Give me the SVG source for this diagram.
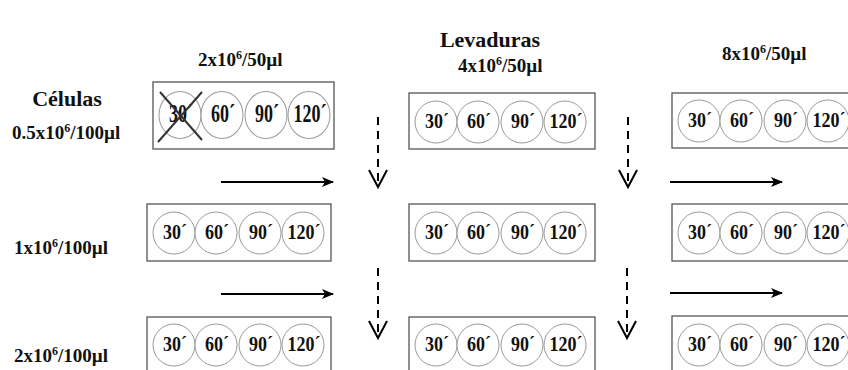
<svg xmlns="http://www.w3.org/2000/svg" width="848" height="370" viewBox="0 0 848 370">
  <style>
    .lbl { font-family: "Liberation Serif", "Times New Roman", serif; font-weight: bold; fill: #111; }
    .head { font-size: 22px; }
    .conc { font-size: 19px; }
    .sup { font-size: 12px; }
    .box { fill: #fff; stroke: #555; stroke-width: 1.3; }
    .well { fill: #fff; stroke: #9a9a9a; stroke-width: 1; }
    .t { font-family: "Liberation Serif", "Times New Roman", serif; font-weight: bold; font-size: 18px; fill: #111; text-anchor: middle; }
    .solid { stroke: #000; stroke-width: 2; fill: none; }
    .dash { stroke: #000; stroke-width: 2; fill: none; stroke-dasharray: 8 6; }
    .vhead { stroke: #000; stroke-width: 2; fill: none; }
  </style>
  <defs>
    <marker id="tri" viewBox="0 0 12 10" refX="11" refY="5" markerWidth="12" markerHeight="10" markerUnits="userSpaceOnUse" orient="auto">
      <path d="M0,0 L12,5 L0,10 L3,5 Z" fill="#000"/>
    </marker>
    <!-- one strip of four wells -->
    <g id="strip">
      <ellipse class="well" cx="27" cy="0" rx="21" ry="21"/>
      <ellipse class="well" cx="69" cy="0" rx="21" ry="21"/>
      <ellipse class="well" cx="113" cy="0" rx="21" ry="21"/>
      <ellipse class="well" cx="156" cy="0" rx="21" ry="21"/>
      <g transform="scale(1,1.2)">
        <text class="t" x="28" y="5">30´</text>
        <text class="t" x="70" y="5">60´</text>
        <text class="t" x="114" y="5">90´</text>
        <text class="t" x="157" y="5">120´</text>
      </g>
    </g>
  </defs>

  <rect width="848" height="370" fill="#fff"/>

  <!-- headings -->
  <g id="titles">
    <text class="lbl head" x="490" y="47" text-anchor="middle">Levaduras</text>
    <text class="lbl conc" x="198" y="66">2x10<tspan class="sup" dy="-7">6</tspan><tspan dy="7">/50µl</tspan></text>
    <text class="lbl conc" x="458" y="72">4x10<tspan class="sup" dy="-7">6</tspan><tspan dy="7">/50µl</tspan></text>
    <text class="lbl conc" x="722" y="60">8x10<tspan class="sup" dy="-7">6</tspan><tspan dy="7">/50µl</tspan></text>
    <text class="lbl head" x="67" y="106" text-anchor="middle">Células</text>
    <text class="lbl conc" x="12" y="139">0.5x10<tspan class="sup" dy="-7">6</tspan><tspan dy="7">/100µl</tspan></text>
    <text class="lbl conc" x="14" y="254">1x10<tspan class="sup" dy="-7">6</tspan><tspan dy="7">/100µl</tspan></text>
    <text class="lbl conc" x="14" y="362">2x10<tspan class="sup" dy="-7">6</tspan><tspan dy="7">/100µl</tspan></text>
  </g>

  <!-- row 1 -->
  <g id="r1c1">
    <rect class="box" x="153" y="82" width="181" height="67"/>
    <g transform="translate(153,115) scale(1,1.12)">
      <use href="#strip"/>
    </g>
    <path d="M160,92 L202,140 M202,92 L158,142" stroke="#333" stroke-width="2" fill="none"/>
  </g>
  <g id="r1c2">
    <rect class="box" x="409" y="93" width="186" height="56"/>
    <use href="#strip" x="409" y="122"/>
  </g>
  <g id="r1c3">
    <rect class="box" x="672" y="93" width="200" height="55"/>
    <use href="#strip" x="672" y="121"/>
  </g>

  <!-- row 2 -->
  <g id="r2c1">
    <rect class="box" x="147" y="204" width="184" height="57"/>
    <use href="#strip" x="147" y="233"/>
  </g>
  <g id="r2c2">
    <rect class="box" x="409" y="204" width="186" height="57"/>
    <use href="#strip" x="409" y="233"/>
  </g>
  <g id="r2c3">
    <rect class="box" x="672" y="204" width="200" height="57"/>
    <use href="#strip" x="672" y="233"/>
  </g>

  <!-- row 3 -->
  <g id="r3c1">
    <rect class="box" x="147" y="317" width="184" height="70"/>
    <use href="#strip" x="147" y="345"/>
  </g>
  <g id="r3c2">
    <rect class="box" x="409" y="317" width="186" height="70"/>
    <use href="#strip" x="409" y="345"/>
  </g>
  <g id="r3c3">
    <rect class="box" x="672" y="316" width="200" height="70"/>
    <use href="#strip" x="672" y="345"/>
  </g>

  <!-- connectors -->
  <g id="connectors">
    <line class="solid" x1="221" y1="182" x2="333" y2="182" marker-end="url(#tri)"/>
    <line class="solid" x1="221" y1="294" x2="333" y2="294" marker-end="url(#tri)"/>
    <line class="solid" x1="670" y1="182" x2="782" y2="182" marker-end="url(#tri)"/>
    <line class="solid" x1="670" y1="293" x2="782" y2="293" marker-end="url(#tri)"/>

    <line class="dash" x1="378" y1="117" x2="378" y2="186"/>
    <path class="vhead" d="M369,170 L378,187 L387,170"/>
    <line class="dash" x1="628" y1="117" x2="628" y2="186"/>
    <path class="vhead" d="M619,170 L628,187 L637,170"/>
    <line class="dash" x1="378" y1="268" x2="378" y2="337"/>
    <path class="vhead" d="M369,321 L378,338 L387,321"/>
    <line class="dash" x1="627" y1="268" x2="627" y2="337"/>
    <path class="vhead" d="M618,321 L627,338 L636,321"/>
  </g>
</svg>
